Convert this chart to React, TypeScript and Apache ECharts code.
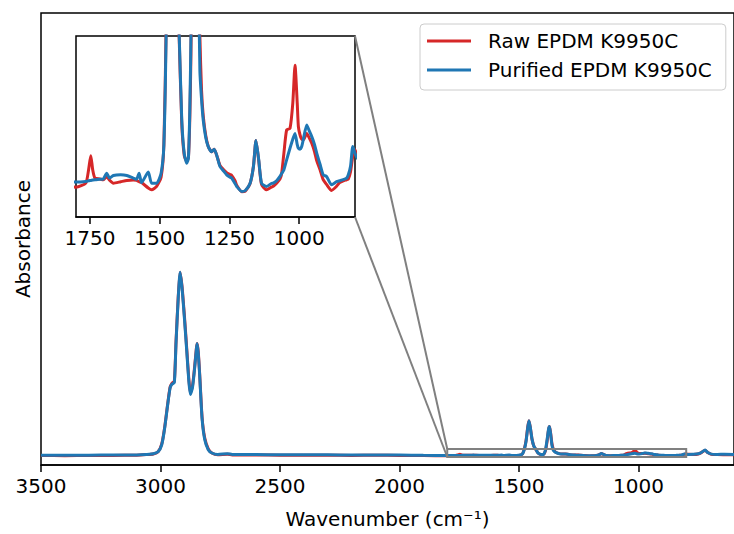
import React, { useEffect, useRef } from "react";
import * as echarts from "echarts";

const WAVENUMBER = [3500,3400,3300,3200,3100,3060,3030,3010,2995,2983,2970,2960,2952,2942,2935,2926,2918,2910,2900,2890,2882,2875,2866,2858,2850,2847,2842,2836,2826,2815,2800,2785,2760,2720,2700,2600,2500,2400,2300,2200,2100,2000,1900,1800,1765,1755,1747,1740,1732,1715,1702,1690,1680,1666,1640,1618,1595,1583,1574,1565,1541,1529,1511,1495,1485,1477,1470,1463,1458,1453,1445,1437,1430,1421,1412,1403,1397,1392,1388,1382,1376,1372,1367,1362,1356,1350,1344,1335,1326,1314,1305,1296,1284,1270,1260,1248,1242,1230,1224,1206,1194,1176,1164,1155,1145,1135,1117,1100,1093,1081,1069,1063,1055,1045,1033,1023,1015,1007,1003,997,991,985,973,965,955,945,937,925,914,902,884,866,855,842,830,824,816,808,800,790,770,750,735,721,710,695,670,640,600];

const PURIFIED = [0.002,0.002,0.003,0.004,0.006,0.012,0.02,0.045,0.13,0.33,0.63,0.84,0.89,0.91,1.40,1.95,2.29,2.10,1.72,1.30,0.95,0.76,0.85,1.06,1.32,1.40,1.28,1.00,0.46,0.20,0.07,0.03,0.012,0.022,0.012,0.010,0.009,0.008,0.007,0.006,0.006,0.004,0.001,-0.0007,-0.0004,0.0000,0.0002,0.0004,0.0006,0.0008,0.0010,0.0042,0.0015,0.0029,0.0033,0.0029,0.0015,0.0009,0.0042,-0.0010,0.0048,-0.0013,-0.0013,0.0042,0.020,0.08,0.18,0.35,0.434,0.36,0.20,0.11,0.08,0.034,0.015,0.0097,0.0125,0.04,0.08,0.20,0.33,0.36,0.26,0.13,0.061,0.045,0.0336,0.024,0.0189,0.0161,0.0174,0.0143,0.0079,0.0052,0.0033,0.0020,0.0015,-0.0015,-0.0031,-0.0059,-0.0055,-0.0013,0.0079,0.0222,0.0116,-0.0013,-0.0031,-0.0015,-0.0013,0.0000,0.0024,0.0040,0.0060,0.0116,0.0180,0.0230,0.0262,0.0200,0.0180,0.0175,0.0189,0.0230,0.0308,0.0280,0.0244,0.0200,0.0152,0.0090,0.0033,0.0024,-0.0022,-0.0005,0.0000,0.0006,0.0015,0.0033,0.0080,0.0189,0.0152,0.012,0.014,0.020,0.040,0.0675,0.035,0.016,0.012,0.014,0.012];

const RAW = [-0.002,-0.003,-0.002,0.000,0.003,0.010,0.018,0.045,0.14,0.34,0.64,0.85,0.90,0.93,1.42,1.97,2.29,2.12,1.75,1.33,0.98,0.78,0.87,1.08,1.33,1.40,1.30,1.02,0.48,0.22,0.08,0.03,0.008,0.015,0.006,0.004,0.003,0.002,0.001,0.000,0.001,0.000,-0.002,-0.0035,-0.0013,0.006,0.0138,0.006,0.0015,0.0010,0.0006,0.0024,0.0004,-0.0013,-0.0005,0.0002,0.0005,0.0002,-0.0005,-0.0010,-0.0040,-0.0050,-0.0031,0.002,0.020,0.085,0.19,0.36,0.434,0.36,0.20,0.11,0.078,0.032,0.014,0.0106,0.013,0.035,0.07,0.18,0.32,0.36,0.27,0.15,0.08,0.05,0.036,0.025,0.019,0.016,0.0174,0.0143,0.0085,0.0060,0.0045,0.0035,0.0030,0.0000,-0.0025,-0.0060,-0.0058,-0.0015,0.0080,0.0222,0.0110,-0.0020,-0.0050,-0.0035,-0.0030,-0.0013,0.0010,0.0039,0.0150,0.0281,0.0290,0.0428,0.0639,0.0428,0.030,0.0253,0.0230,0.0226,0.0262,0.0240,0.0207,0.0160,0.0110,0.0060,0.0006,-0.0020,-0.0053,-0.0030,-0.0010,0.0000,0.0006,0.0010,0.0050,0.0134,0.0171,0.013,0.012,0.018,0.038,0.065,0.035,0.014,0.010,0.009,0.008];

const SERIES_NAMES = ["Raw EPDM K9950C", "Purified EPDM K9950C"];
const MAIN_X = [600, 3500];
const MAIN_Y = [-0.12, 5.53];
const MAIN_TICKS = [3500, 3000, 2500, 2000, 1500, 1000];
const INSET_X = [800, 1800];
const INSET_Y = [-0.02, 0.08];
const INSET_TICKS = [1750, 1500, 1250, 1000];

const RED = "#d62728";
const BLUE = "#1f77b4";
const FONT = "DejaVu Sans";

export default function App() {
  const ref = useRef<HTMLDivElement>(null);
  useEffect(() => {
    if (!ref.current) return;
    const chart = echarts.init(ref.current, undefined, { renderer: "svg" });
    const raw = WAVENUMBER.map((w, i) => [w, RAW[i]]);
    const pur = WAVENUMBER.map((w, i) => [w, PURIFIED[i]]);

    const lineSeries = (name: string, color: string, data: number[][], idx: number) => ({
      type: "line",
      name,
      data,
      xAxisIndex: idx,
      yAxisIndex: idx,
      color,
      symbol: "none",
      showSymbol: false,
      smooth: 0.2,
      clip: true,
      lineStyle: { color, width: 3 },
      z: idx === 0 ? 2 : 5,
    });

    const xAxisBase = (ticks: number[], range: number[], gridIndex: number) => ({
      type: "value",
      gridIndex,
      min: range[0],
      max: range[1],
      inverse: true,
      splitLine: { show: false },
      axisLine: { show: true, onZero: false, lineStyle: { color: "#000", width: 1.5 } },
      axisTick: {
        show: true,
        inside: false,
        length: 7,
        customValues: ticks,
        lineStyle: { color: "#000", width: 1.5 },
      },
      axisLabel: {
        show: true,
        customValues: ticks,
        margin: 11,
        fontSize: 20,
        fontFamily: FONT,
        color: "#000",
        formatter: (v: number) => String(v),
      },
    });

    const yAxisBase = (range: number[], gridIndex: number) => ({
      type: "value",
      gridIndex,
      min: range[0],
      max: range[1],
      splitLine: { show: false },
      axisLine: { show: false, onZero: false },
      axisTick: { show: false },
      axisLabel: { show: false },
    });

    chart.setOption({
      animation: false,
      backgroundColor: "#fff",
      grid: [
        { left: 41, top: 13, width: 696, height: 452, show: true, borderColor: "#000", borderWidth: 1.5, backgroundColor: "transparent" },
        { left: 76, top: 36, width: 279, height: 181, show: true, borderColor: "#000", borderWidth: 1.5, backgroundColor: "#fff", z: 4 },
      ],
      xAxis: [
        {
          ...xAxisBase(MAIN_TICKS, MAIN_X, 0),
          name: "Wavenumber (cm\u207B\u00B9)",
          nameLocation: "middle",
          nameGap: 44,
          nameTextStyle: { fontSize: 20, fontFamily: FONT, color: "#000" },
        },
        { ...xAxisBase(INSET_TICKS, INSET_X, 1), z: 6 },
      ],
      yAxis: [
        {
          ...yAxisBase(MAIN_Y, 0),
          name: "Absorbance",
          nameLocation: "middle",
          nameGap: 8,
          nameTextStyle: { fontSize: 20, fontFamily: FONT, color: "#000" },
        },
        yAxisBase(INSET_Y, 1),
      ],
      legend: {
        data: SERIES_NAMES,
        orient: "vertical",
        left: 420,
        top: 24,
        icon: "rect",
        itemWidth: 44,
        itemHeight: 3,
        itemGap: 9,
        padding: [7, 14, 10, 7],
        selectedMode: false,
        borderColor: "#cccccc",
        borderWidth: 1,
        borderRadius: 4,
        backgroundColor: "rgba(255,255,255,0.8)",
        textStyle: { fontSize: 20, lineHeight: 20, fontFamily: FONT, color: "#000", padding: [0, 0, 0, 12] },
      },
      series: [
        lineSeries(SERIES_NAMES[0], RED, raw, 0),
        lineSeries(SERIES_NAMES[1], BLUE, pur, 0),
        lineSeries(SERIES_NAMES[0], RED, raw, 1),
        lineSeries(SERIES_NAMES[1], BLUE, pur, 1),
      ],
    });

    const a = chart.convertToPixel({ gridIndex: 0 }, [INSET_X[1], INSET_Y[1]]) as number[];
    const b = chart.convertToPixel({ gridIndex: 0 }, [INSET_X[0], INSET_Y[0]]) as number[];
    const c = chart.convertToPixel({ gridIndex: 1 }, [INSET_X[0], INSET_Y[1]]) as number[];
    const d = chart.convertToPixel({ gridIndex: 1 }, [INSET_X[0], INSET_Y[0]]) as number[];
    const grey = "#808080";
    chart.setOption({
      graphic: [
        {
          type: "rect",
          z: 10,
          shape: { x: Math.min(a[0], b[0]), y: Math.min(a[1], b[1]), width: Math.abs(b[0] - a[0]), height: Math.abs(b[1] - a[1]) },
          style: { fill: "none", stroke: grey, lineWidth: 2 },
        },
        {
          type: "line",
          z: 10,
          shape: { x1: c[0], y1: c[1], x2: a[0], y2: a[1] },
          style: { stroke: grey, lineWidth: 2 },
        },
        {
          type: "line",
          z: 10,
          shape: { x1: d[0], y1: d[1], x2: a[0], y2: b[1] },
          style: { stroke: grey, lineWidth: 2 },
        },
      ],
    });

    return () => chart.dispose();
  }, []);
  return <div ref={ref} style={{ position: "fixed", left: 0, top: 0, width: 734, height: 534 }} />;
}
